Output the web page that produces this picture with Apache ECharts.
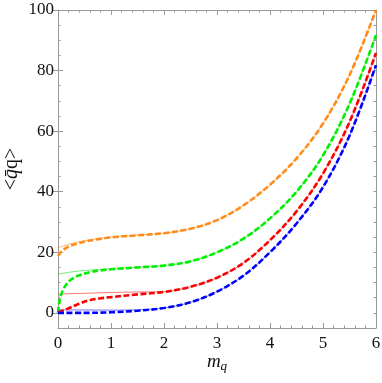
<!DOCTYPE html>
<html>
<head>
<meta charset="utf-8">
<script src="https://cdn.jsdelivr.net/npm/echarts@6/dist/echarts.min.js"></script>
<style>
  html, body { margin: 0; padding: 0; background: #fff; }
  #main { width: 382px; height: 383px; }
</style>
</head>
<body>
<div id="main"></div>
<script>
// tick labels
var xTicks = [0, 1, 2, 3, 4, 5, 6]
var yTicks = [0, 20, 40, 60, 80, 100]

// thin solid curves  [m_q, value]
var orangeThin = [[0, 21.5], [0.25, 22.9], [0.5, 23.8], [1, 25.1], [1.5, 25.7], [2, 26.3], [2.5, 27.8], [3, 30.6], [3.5, 35.5], [4, 42.3], [4.5, 51], [5, 62.5], [5.5, 78.5], [6, 100]]
var greenThin = [[0, 12.8], [0.25, 13.5], [0.5, 14], [1, 14.6], [1.5, 15.1], [2, 15.6], [2.5, 17], [3, 20], [3.5, 24.5], [4, 31.2], [4.5, 40], [5, 52], [5.5, 69], [6, 91.7]]
var redThin = [[0, 6.2], [0.5, 6.45], [1, 6.7], [1.5, 6.9], [2, 7.0], [2.5, 8.6], [3, 11.6], [3.5, 16.5], [4, 24], [4.5, 33.5], [5, 46], [5.5, 63], [6, 85.8]]
var blueThin = [[0, 1.0], [0.5, 0.95], [1, 0.9], [1.5, 1.0], [2, 1.6], [2.5, 3.5], [3, 7], [3.5, 12.3], [4, 20], [4.5, 29.5], [5, 41.5], [5.5, 58.5], [6, 81.8]]

// thick dashed curves
var orangeDash = [[0, 18.8], [0.05, 20], [0.1, 20.8], [0.2, 21.9], [0.35, 22.8], [0.5, 23.5], [0.75, 24.3], [1, 24.9], [1.5, 25.6], [2, 26.3], [2.5, 27.8], [3, 30.6], [3.5, 35.5], [4, 42.3], [4.5, 51], [5, 62.5], [5.5, 78.5], [6, 100]]
var greenDash = [[0, 0], [0.02, 3], [0.05, 5.5], [0.1, 7.8], [0.2, 10.3], [0.3, 11.6], [0.4, 12.4], [0.6, 13.4], [0.8, 14], [1, 14.4], [1.5, 15], [2, 15.6], [2.5, 17], [3, 20], [3.5, 24.5], [4, 31.2], [4.5, 40], [5, 52], [5.5, 69], [6, 91.7]]
var redDash = [[0, 0.2], [0.1, 0.8], [0.2, 1.5], [0.4, 3], [0.6, 4.2], [0.8, 4.8], [1, 5.2], [1.5, 6.1], [2, 6.9], [2.5, 8.6], [3, 11.6], [3.5, 16.5], [4, 24], [4.5, 33.5], [5, 46], [5.5, 63], [6, 85.8]]
var blueDash = [[0, 0], [0.5, 0], [1, 0.2], [1.5, 0.7], [2, 1.6], [2.5, 3.5], [3, 7], [3.5, 12.3], [4, 20], [4.5, 29.5], [5, 41.5], [5.5, 58.5], [6, 81.8]]

var frame = '#999'
var serif = '"Liberation Serif", "DejaVu Serif", serif'

function thin(data, color) {
  return {
    type: 'line', data: data, smooth: 0.35, showSymbol: false, silent: true,
    lineStyle: { color: color, width: 1, opacity: 0.55 }
  }
}
function dashed(data, color) {
  return {
    type: 'line', data: data, smooth: 0.35, showSymbol: false, silent: true,
    lineStyle: { color: color, width: 2.6, type: [6, 2.5] }
  }
}

function xAx(pos, labels) {
  return {
    type: 'value', position: pos, min: 0, max: 6, interval: 1,
    axisLine: { show: true, onZero: false, lineStyle: { color: frame } },
    axisTick: { inside: true, length: 5, lineStyle: { color: frame } },
    minorTick: { show: true, splitNumber: 5, length: 2.5, lineStyle: { color: frame } },
    axisLabel: { show: labels, fontFamily: serif, fontSize: 17, color: '#111', margin: 7 },
    splitLine: { show: false }
  }
}
function yAx(pos, labels) {
  return {
    type: 'value', position: pos, min: -5, max: 100, interval: 5,
    axisLine: { show: true, onZero: false, lineStyle: { color: frame } },
    axisTick: { inside: true, length: 2.5, lineStyle: { color: frame } },
    axisLabel: { show: labels, customValues: yTicks, fontFamily: serif, fontSize: 17, color: '#111', margin: 4 },
    splitLine: { show: false }
  }
}
function yMajor(pos) {
  return {
    type: 'value', position: pos, min: -5, max: 100,
    axisLine: { show: false },
    axisTick: { inside: true, length: 5, customValues: yTicks, lineStyle: { color: frame } },
    axisLabel: { show: false },
    splitLine: { show: false }
  }
}

var chart = echarts.init(document.getElementById('main'))
var bottomX = xAx('bottom', true)
bottomX.name = '{i|m}{s|q}'
bottomX.nameLocation = 'middle'
bottomX.nameGap = 22
bottomX.nameMoveOverlap = false
bottomX.nameTextStyle = {
  rich: {
    i: { fontFamily: serif, fontStyle: 'italic', fontSize: 19, color: '#111' },
    s: { fontFamily: serif, fontStyle: 'italic', fontSize: 13, color: '#111', padding: [10, 0, 0, 0] }
  }
}
var leftY = yAx('left', true)
leftY.name = '{a|<}{i|q\u0304}{a|q>}'
leftY.nameLocation = 'middle'
leftY.nameGap = 36
leftY.nameRotate = 90
leftY.nameMoveOverlap = false
leftY.nameTextStyle = {
  rich: {
    a: { fontFamily: serif, fontSize: 20, color: '#111' },
    i: { fontFamily: serif, fontStyle: 'italic', fontSize: 20, color: '#111' }
  }
}

chart.setOption({
  animation: false,
  grid: { left: 58, right: 6, top: 10, bottom: 55, outerBoundsMode: 'none', containLabel: false },
  xAxis: [bottomX, xAx('top', false)],
  yAxis: [leftY, yAx('right', false), yMajor('left'), yMajor('right')],
  series: [
    thin(orangeThin, '#FF8000'), thin(greenThin, '#00DD00'), thin(redThin, '#FF0000'), thin(blueThin, '#0000FF'),
    dashed(orangeDash, '#FF8C1A'), dashed(greenDash, '#00EE00'), dashed(redDash, '#FF0000'), dashed(blueDash, '#0000FF')
  ]
})
</script>
</body>
</html>
